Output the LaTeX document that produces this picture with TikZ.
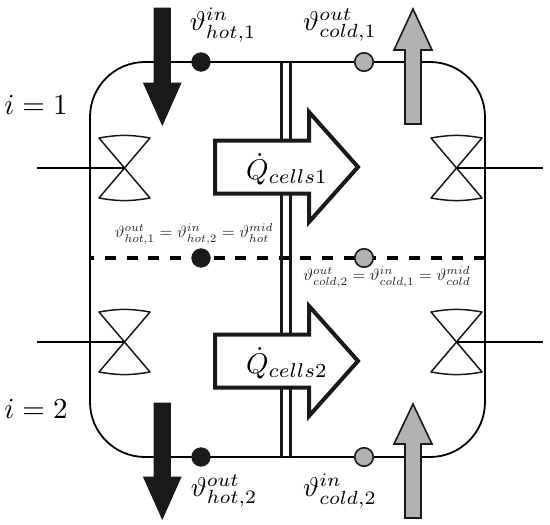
\documentclass[tikz,border=0pt]{standalone}
\usepackage{amsmath}
\tikzset{
	wall/.style={line width=1.8pt},
	hotdot/.style={circle,draw=black!90,fill=black!90,line width=0.8pt,minimum size=18.5pt,inner sep=0pt},
	colddot/.style={circle,draw=black!90,fill=black!30,line width=1.6pt,minimum size=18.5pt,inner sep=0pt},
	hotarrow/.style={draw=black!90,fill=black!90,line width=0.8pt,line join=miter},
	coldarrow/.style={draw=black!90,fill=black!30,line width=1.6pt,line join=miter},
	heatarrow/.style={draw=black!90,fill=white,line width=4pt,line join=miter},
	valve/.style={draw=black!90,line width=1.5pt,line join=round},
	lab/.style={inner sep=0pt,scale=2.72},
	ilab/.style={inner sep=0pt,scale=2.9},
	qlab/.style={inner sep=0pt,scale=2.85},
	smalllab/.style={inner sep=0pt,scale=1.65,text=black!85}
}
\newcommand{\valveat}[2]{%
	\draw[valve] (#1-25,#2-30) to[bend left=10] (#1+26,#2-30) -- (#1-25,#2+30) to[bend right=10] (#1+26,#2+30) -- cycle;
}
\begin{document}
\begin{tikzpicture}[x=1pt,y=-1pt,line cap=butt,>=stealth]
	\useasboundingbox (0,0) rectangle (550,525);
	% loop
	\draw[wall] (145,62) -- (430,62) arc[start angle=90,end angle=0,x radius=55,y radius=-55] -- (485,402)
		arc[start angle=0,end angle=-90,x radius=55,y radius=-55] -- (145,457)
		arc[start angle=-90,end angle=-180,x radius=55,y radius=-55] -- (90,117)
		arc[start angle=180,end angle=90,x radius=55,y radius=-55] -- cycle;
	\draw[line width=4pt,dash pattern=on 11pt off 10.7pt,dash phase=6.7pt] (90,258) -- (485,258);
	% cell wall
	\draw[line width=3pt,black!90] (281.7,62) -- (281.7,457) (290.7,62) -- (290.7,457);
	% valves
	\valveat{124}{168}
	\valveat{124}{342}
	\valveat{456}{168}
	\valveat{456}{342}
	\coordinate (v1) at (124,168);
	\coordinate (v2) at (124,342);
	\coordinate (v3) at (456,168);
	\coordinate (v4) at (456,342);
	\coordinate (w1) at (37,168);
	\coordinate (w2) at (37,342);
	\coordinate (w3) at (543,168);
	\coordinate (w4) at (543,342);
	\foreach \a/\b in {w1/v1,w2/v2,v3/w3,v4/w4}
		\draw[line width=1.5pt] (\a) -- (\b);
	% flow arrows
	\draw[hotarrow] (154,8) -- (170.5,8) -- (170.5,83) -- (181,83) -- (162.3,125) -- (143.5,83) -- (154,83) -- cycle;
	\draw[hotarrow] (154,403) -- (170.5,403) -- (170.5,477) -- (181,477) -- (162.3,519) -- (143.5,477) -- (154,477) -- cycle;
	\draw[coldarrow] (405,124) -- (421,124) -- (421,50) -- (432,50) -- (413,9) -- (394,50) -- (405,50) -- cycle;
	\draw[coldarrow] (405,518) -- (421,518) -- (421,444) -- (432,444) -- (413,404) -- (394,444) -- (405,444) -- cycle;
	% heat arrows
	\foreach \y/\i in {167/1,361/2} {
		\draw[heatarrow] (215,\y-26.5) -- (309,\y-26.5) -- (309,\y-55) -- (358,\y) -- (309,\y+55) -- (309,\y+26.5) -- (215,\y+26.5) -- cycle;
		\node[qlab] (q\i) at (287,\y+2) {$\dot{Q}_{cells\i}$};
	}
	% sensors
	\foreach \n/\x/\y in {h1/201/62,h2/201/258,h3/201/457}
		\node[hotdot] (\n) at (\x,\y) {};
	\foreach \n/\x/\y in {c1/364/62,c2/364/258,c3/364/457}
		\node[colddot] (\n) at (\x,\y) {};
	% labels
	\node[lab] (t1) at (223,25) {$\vartheta_{hot,1}^{in}$};
	\node[lab] (t2) at (340,25) {$\vartheta_{cold,1}^{out}$};
	\node[lab] (t3) at (224,491) {$\vartheta_{hot,2}^{out}$};
	\node[lab] (t4) at (340,491) {$\vartheta_{cold,2}^{in}$};
	\node[smalllab] (m1) at (194,234) {$\vartheta_{hot,1}^{out}=\vartheta_{hot,2}^{in}=\vartheta_{hot}^{mid}$};
	\node[smalllab] (m2) at (387,277) {$\vartheta_{cold,2}^{out}=\vartheta_{cold,1}^{in}=\vartheta_{cold}^{mid}$};
	\node[ilab] (i1) at (36,105) {$i=1$};
	\node[ilab] (i2) at (36,409) {$i=2$};
\end{tikzpicture}
\end{document}
